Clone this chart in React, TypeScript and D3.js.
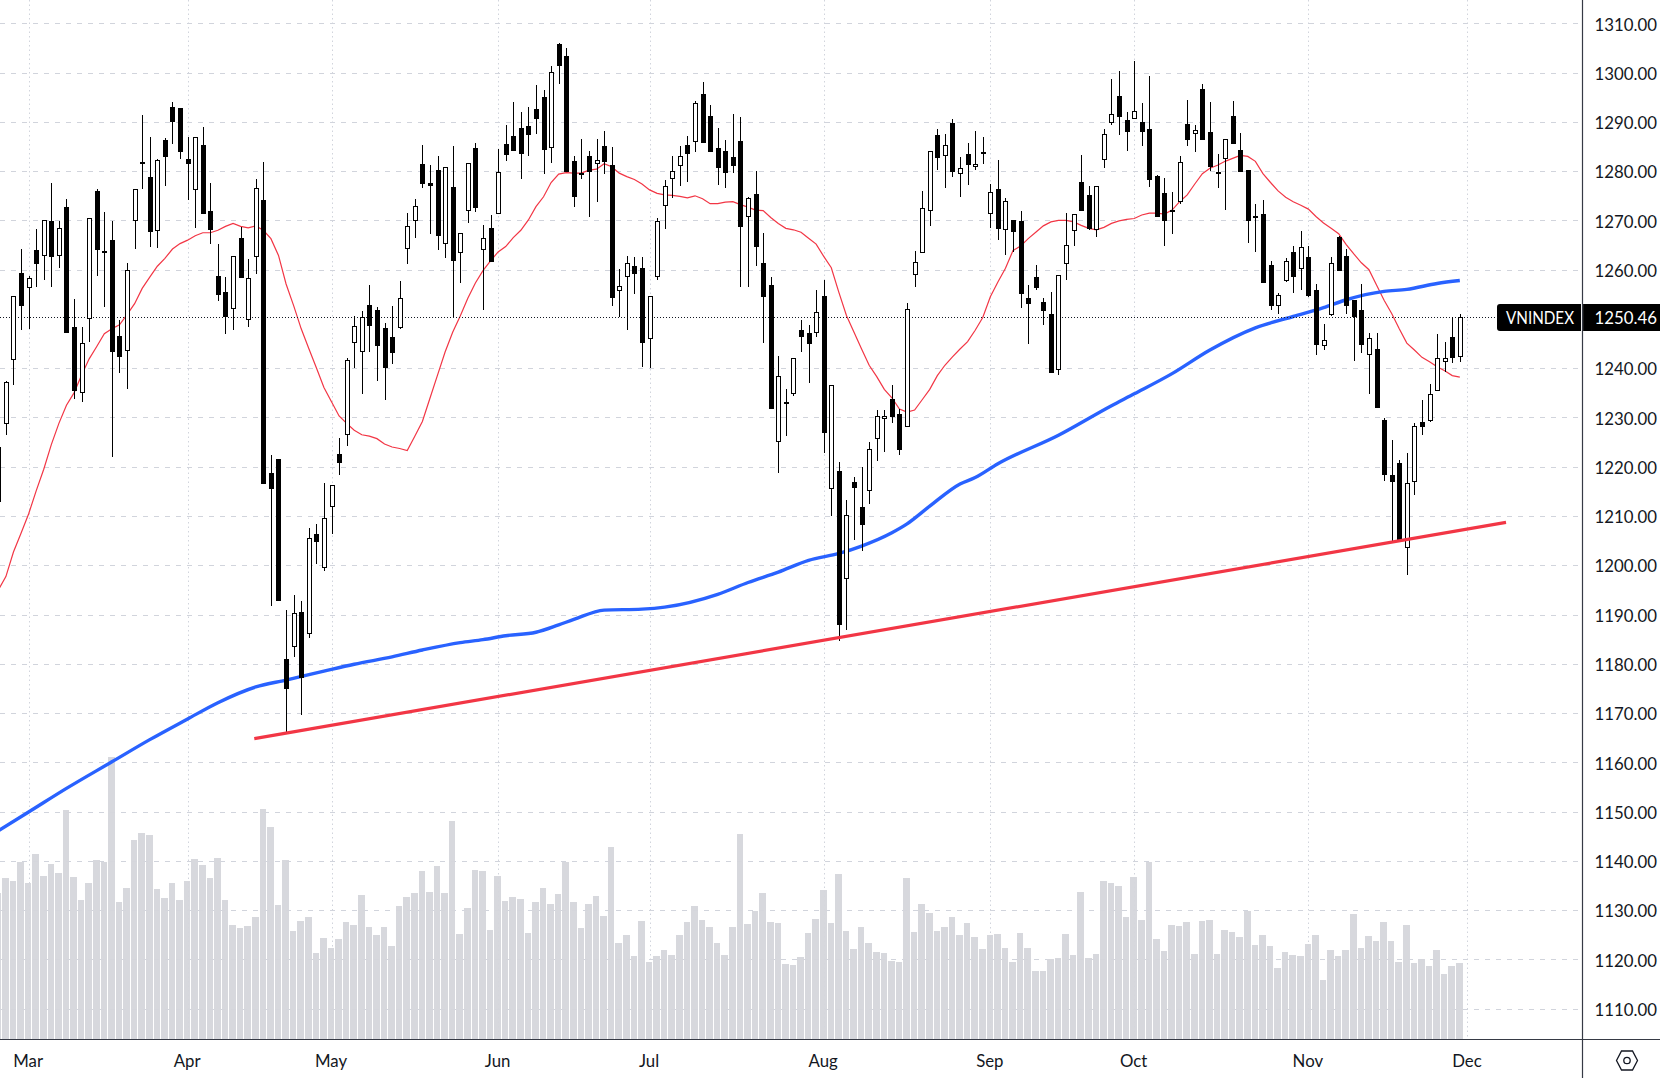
import { useEffect, useRef } from 'react';
import * as d3 from 'd3';

const WIDTH = 1660;
const HEIGHT = 1078;
const AXIS_X = 1582.5;
const AXIS_Y = 1039.5;
const FONT = 'Lato, "Noto Sans", sans-serif';

// bar number of the first entry below, bar 0 is the first session of March
const FIRST_BAR = -4;

const monthLabels = ['Mar', 'Apr', 'May', 'Jun', 'Jul', 'Aug', 'Sep', 'Oct', 'Nov', 'Dec'];
const monthBars = [0, 21, 40, 62, 82, 105, 127, 146, 169, 190];

const priceTicks = [
  1110, 1120, 1130, 1140, 1150, 1160, 1170, 1180, 1190, 1200, 1210,
  1220, 1230, 1240, 1260, 1270, 1280, 1290, 1300, 1310,
];

const opens = [
  1224.1, 1228.8, 1241.8, 1259.4, 1256.5, 1264.1, 1262.9, 1269.9, 1263.0, 1272.7,
  1248.3, 1235.2, 1250.1, 1275.9, 1263.8, 1266.1, 1246.5, 1243.8, 1270.0, 1281.8,
  1278.8, 1268.0, 1286.3, 1293.0, 1292.8, 1282.4, 1276.3, 1285.3, 1271.9, 1258.7,
  1255.4, 1252.3, 1266.4, 1249.9, 1262.8, 1274.1, 1218.7, 1221.6, 1181.0, 1183.7,
  1190.5, 1186.3, 1206.4, 1199.7, 1212.1, 1222.6, 1226.7, 1245.4, 1243.5, 1252.8,
  1251.8, 1248.2, 1246.3, 1248.4, 1264.5, 1270.1, 1281.4, 1277.7, 1280.2, 1265.5,
  1276.7, 1263.5, 1272.2, 1284.7, 1264.3, 1268.5, 1271.6, 1285.5, 1287.1, 1288.8,
  1289.1, 1292.6, 1295.0, 1284.9, 1305.9, 1303.4, 1282.1, 1279.6, 1283.1, 1281.7,
  1285.1, 1281.3, 1255.8, 1258.8, 1260.8, 1260.4, 1246.2, 1258.8, 1273.2, 1278.7,
  1281.2, 1285.4, 1286.2, 1295.7, 1291.2, 1284.7, 1284.1, 1282.9, 1286.2, 1270.8,
  1275.4, 1261.4, 1256.8, 1225.3, 1233.1, 1235.0, 1247.8, 1247.2, 1247.4, 1254.7,
  1215.6, 1219.2, 1197.5, 1216.9, 1211.8, 1215.2, 1225.9, 1229.8, 1233.8, 1230.7,
  1228.2, 1259.2, 1263.5, 1272.2, 1287.4, 1283.2, 1289.8, 1279.6, 1283.4, 1281.0,
  1283.9, 1271.5, 1276.4, 1268.2, 1270.0, 1269.9, 1254.3, 1258.5, 1253.5, 1251.0,
  1239.9, 1261.3, 1268.0, 1277.9, 1275.2, 1268.2, 1282.4, 1290.0, 1295.2, 1290.3,
  1290.8, 1289.9, 1288.6, 1279.1, 1275.6, 1272.0, 1273.9, 1289.6, 1287.7, 1296.7,
  1287.9, 1279.9, 1282.6, 1291.2, 1284.4, 1280.3, 1270.7, 1271.4, 1261.0, 1252.8,
  1258.0, 1263.6, 1260.3, 1262.5, 1255.9, 1244.8, 1251.1, 1266.7, 1262.8, 1253.9,
  1251.9, 1242.8, 1244.0, 1229.5, 1218.4, 1220.8, 1203.7, 1217.2, 1229.0, 1229.4,
  1235.5, 1241.5, 1246.4, 1242.5,
];

const highs = [
  1224.1, 1237.5, 1254.6, 1264.3, 1258.7, 1268.3, 1270.0, 1277.5, 1269.9, 1274.3,
  1254.0, 1248.3, 1270.4, 1276.3, 1271.7, 1269.9, 1249.7, 1261.4, 1276.3, 1291.4,
  1286.9, 1282.5, 1286.7, 1294.0, 1292.8, 1286.9, 1287.0, 1288.9, 1277.5, 1265.2,
  1258.5, 1262.7, 1268.7, 1262.2, 1278.4, 1281.8, 1222.4, 1221.6, 1190.9, 1193.9,
  1192.8, 1207.6, 1208.4, 1216.7, 1216.2, 1225.8, 1242.0, 1250.6, 1251.6, 1256.9,
  1252.4, 1249.1, 1252.6, 1257.8, 1271.6, 1274.3, 1285.3, 1281.2, 1283.0, 1280.9,
  1285.1, 1267.5, 1281.7, 1285.7, 1269.0, 1271.1, 1284.5, 1289.3, 1294.0, 1292.0,
  1293.0, 1297.5, 1296.5, 1301.3, 1306.0, 1305.0, 1283.0, 1286.5, 1284.0, 1286.5,
  1288.2, 1284.9, 1260.1, 1262.8, 1262.6, 1262.6, 1254.6, 1270.5, 1278.2, 1283.1,
  1285.1, 1287.2, 1294.3, 1298.1, 1293.4, 1288.7, 1286.3, 1291.6, 1290.9, 1274.8,
  1280.1, 1267.4, 1258.6, 1242.4, 1235.7, 1242.0, 1249.8, 1248.8, 1255.8, 1257.9,
  1236.5, 1221.0, 1213.3, 1218.0, 1220.0, 1225.0, 1231.6, 1231.5, 1236.6, 1231.7,
  1253.2, 1263.8, 1275.9, 1284.0, 1288.6, 1287.6, 1290.6, 1282.9, 1285.7, 1288.2,
  1287.0, 1277.4, 1282.3, 1274.6, 1270.0, 1271.9, 1256.9, 1260.9, 1254.3, 1255.5,
  1258.9, 1271.6, 1271.3, 1283.3, 1276.9, 1277.0, 1288.6, 1298.7, 1300.3, 1292.0,
  1302.4, 1293.8, 1299.3, 1279.3, 1278.6, 1275.8, 1283.1, 1294.5, 1289.3, 1297.7,
  1294.0, 1283.4, 1286.5, 1294.2, 1287.7, 1280.3, 1273.3, 1274.1, 1261.8, 1255.2,
  1262.3, 1264.8, 1267.8, 1264.8, 1257.1, 1249.0, 1262.6, 1266.9, 1264.2, 1253.9,
  1257.1, 1247.2, 1247.2, 1229.8, 1225.5, 1221.4, 1222.8, 1228.8, 1233.6, 1236.7,
  1247.0, 1245.4, 1250.4, 1251.0,
];

const lows = [
  1212.9, 1226.5, 1236.5, 1247.8, 1248.0, 1256.5, 1258.0, 1256.4, 1260.4, 1247.2,
  1233.7, 1233.2, 1245.4, 1258.7, 1252.4, 1221.9, 1239.1, 1235.7, 1264.2, 1276.4,
  1264.6, 1264.5, 1276.9, 1285.5, 1282.5, 1274.2, 1268.5, 1271.3, 1265.2, 1253.6,
  1247.0, 1247.8, 1258.4, 1248.3, 1259.1, 1216.5, 1191.8, 1192.8, 1166.0, 1181.3,
  1169.7, 1185.3, 1200.3, 1198.8, 1206.4, 1218.3, 1224.3, 1240.0, 1234.8, 1243.3,
  1237.4, 1233.5, 1240.8, 1248.0, 1261.2, 1266.4, 1276.6, 1267.2, 1264.0, 1262.4,
  1250.3, 1257.3, 1269.5, 1271.7, 1251.8, 1261.5, 1271.6, 1282.1, 1284.1, 1278.4,
  1283.0, 1287.5, 1279.4, 1281.7, 1297.7, 1279.8, 1272.7, 1278.5, 1270.7, 1273.7,
  1279.5, 1252.7, 1250.3, 1247.7, 1255.1, 1240.2, 1240.0, 1258.0, 1268.3, 1274.6,
  1277.0, 1277.9, 1283.9, 1285.7, 1283.9, 1277.2, 1276.5, 1279.6, 1256.5, 1256.4,
  1260.8, 1245.1, 1231.7, 1218.7, 1226.2, 1234.3, 1243.2, 1237.0, 1246.3, 1222.7,
  1209.9, 1184.7, 1186.8, 1205.1, 1202.8, 1212.5, 1221.2, 1223.0, 1228.9, 1222.4,
  1228.2, 1256.5, 1263.5, 1268.9, 1280.3, 1276.6, 1278.9, 1274.8, 1277.1, 1280.3,
  1281.5, 1268.5, 1266.1, 1263.0, 1263.5, 1252.2, 1245.0, 1255.8, 1248.8, 1239.0,
  1238.7, 1258.0, 1264.9, 1272.0, 1268.0, 1266.7, 1280.6, 1289.3, 1287.4, 1284.1,
  1290.8, 1285.2, 1276.8, 1270.6, 1264.8, 1267.2, 1273.4, 1285.2, 1283.8, 1286.3,
  1280.1, 1276.5, 1272.1, 1285.5, 1279.8, 1265.5, 1263.5, 1257.4, 1251.9, 1251.0,
  1257.6, 1255.2, 1255.8, 1254.5, 1242.6, 1243.6, 1250.7, 1259.7, 1251.0, 1241.4,
  1243.0, 1234.7, 1231.9, 1217.2, 1204.9, 1205.1, 1198.1, 1214.2, 1226.5, 1229.1,
  1235.3, 1239.2, 1241.0, 1241.2,
];

const closes = [
  1212.9, 1237.3, 1254.6, 1252.7, 1258.3, 1261.2, 1270.0, 1262.6, 1268.4, 1247.2,
  1235.4, 1245.1, 1270.4, 1264.1, 1263.6, 1243.3, 1242.3, 1260.0, 1276.3, 1281.6,
  1267.7, 1282.2, 1282.9, 1290.0, 1283.9, 1281.5, 1287.0, 1271.3, 1268.1, 1254.9,
  1250.3, 1262.7, 1258.4, 1258.3, 1276.5, 1216.5, 1215.5, 1192.8, 1174.8, 1190.3,
  1177.2, 1205.5, 1204.8, 1209.5, 1216.2, 1220.8, 1241.6, 1248.5, 1250.3, 1248.6,
  1244.5, 1240.1, 1243.1, 1254.3, 1268.8, 1273.0, 1277.4, 1276.9, 1266.8, 1280.9,
  1261.8, 1267.5, 1281.7, 1272.5, 1266.4, 1261.5, 1279.9, 1283.3, 1284.1, 1283.5,
  1287.3, 1290.6, 1284.3, 1300.2, 1301.4, 1279.8, 1274.7, 1279.3, 1279.8, 1282.3,
  1281.9, 1254.2, 1256.7, 1261.4, 1259.1, 1245.1, 1254.6, 1269.9, 1276.9, 1280.0,
  1283.1, 1283.5, 1293.9, 1285.7, 1283.9, 1280.7, 1279.7, 1281.1, 1268.6, 1274.5,
  1264.6, 1254.5, 1231.7, 1238.4, 1232.9, 1242.0, 1246.3, 1245.0, 1251.5, 1226.9,
  1236.5, 1187.9, 1210.3, 1215.7, 1208.2, 1223.5, 1230.3, 1230.4, 1230.1, 1223.4,
  1252.1, 1261.5, 1272.5, 1284.0, 1282.7, 1285.3, 1279.8, 1280.6, 1281.3, 1281.4,
  1283.7, 1275.7, 1268.2, 1273.9, 1267.7, 1255.1, 1253.1, 1256.3, 1251.6, 1239.0,
  1258.9, 1265.0, 1271.3, 1272.0, 1268.3, 1277.0, 1287.6, 1291.7, 1291.0, 1287.9,
  1292.2, 1287.9, 1278.2, 1270.6, 1269.8, 1272.2, 1281.9, 1286.3, 1288.3, 1286.3,
  1280.9, 1279.4, 1286.5, 1285.5, 1279.8, 1269.8, 1270.9, 1257.4, 1252.7, 1254.8,
  1261.8, 1258.6, 1264.6, 1254.7, 1244.7, 1245.7, 1261.4, 1259.7, 1252.6, 1250.3,
  1244.8, 1246.2, 1231.9, 1218.4, 1217.0, 1205.1, 1216.6, 1228.3, 1228.0, 1234.8,
  1242.0, 1242.1, 1242.0, 1250.46,
];

// volume, millions of shares
const volumes = [
  439, 484, 475, 532, 469, 558, 490, 526, 499, 688,
  487, 418, 469, 538, 532, 847, 412, 454, 598, 619,
  613, 451, 424, 469, 418, 475, 541, 523, 484, 544,
  418, 343, 334, 340, 367, 691, 637, 403, 538, 325,
  355, 367, 259, 304, 274, 301, 352, 343, 433, 337,
  313, 337, 280, 400, 427, 439, 505, 442, 520, 439,
  655, 316, 394, 508, 505, 328, 490, 415, 427, 421,
  319, 412, 454, 406, 436, 532, 412, 334, 406, 430,
  370, 577, 289, 313, 250, 355, 232, 250, 268, 253,
  313, 352, 400, 358, 337, 289, 253, 337, 616, 346,
  385, 439, 352, 349, 226, 223, 247, 319, 361, 448,
  349, 496, 325, 271, 337, 289, 262, 259, 235, 232,
  484, 322, 406, 379, 325, 337, 367, 313, 349, 307,
  271, 313, 316, 274, 232, 319, 274, 205, 205, 241,
  244, 316, 253, 442, 244, 256, 475, 469, 460, 367,
  487, 358, 532, 301, 265, 343, 340, 352, 256, 355,
  358, 256, 328, 322, 307, 386, 283, 313, 280, 214,
  262, 253, 250, 286, 313, 178, 268, 250, 268, 376,
  274, 310, 295, 352, 295, 232, 343, 229, 241, 220,
  268, 196, 220, 229,
];

const ma20 = [
  1195.0, 1197.7, 1202.7, 1206.5, 1210.4, 1215.1, 1219.5, 1224.5, 1228.8, 1232.5,
  1235.0, 1238.6, 1241.9, 1244.4, 1247.0, 1248.0, 1248.8, 1250.9, 1253.1, 1256.2,
  1258.5, 1260.7, 1262.3, 1264.2, 1265.3, 1266.0, 1266.9, 1267.5, 1267.5, 1268.0,
  1268.8, 1269.4, 1268.8, 1268.5, 1268.9, 1268.0, 1266.3, 1262.9, 1257.1, 1252.7,
  1248.0, 1244.0, 1240.1, 1236.1, 1233.2, 1230.3, 1228.8, 1227.4, 1226.5, 1226.2,
  1225.7, 1224.6, 1224.0, 1223.7, 1223.3, 1226.2, 1229.2, 1233.9, 1238.6, 1243.3,
  1247.3, 1250.6, 1254.2, 1257.3, 1259.8, 1261.8, 1263.6, 1264.7, 1266.5, 1268.0,
  1270.1, 1272.8, 1274.8, 1277.7, 1279.4, 1279.7, 1279.6, 1279.6, 1280.2, 1280.4,
  1281.5, 1280.9, 1279.6, 1278.9, 1278.3, 1277.4, 1276.2, 1275.5, 1275.2, 1275.1,
  1274.9, 1274.6, 1275.0, 1274.4, 1273.4, 1273.4, 1273.7, 1273.8, 1273.2, 1272.7,
  1272.1, 1272.0, 1270.6, 1269.4, 1268.4, 1268.1, 1267.6, 1266.4, 1265.2, 1262.7,
  1260.4, 1255.4, 1250.7, 1247.3, 1243.9, 1240.6, 1238.3, 1235.7, 1234.0, 1231.7,
  1231.1, 1231.5, 1233.6, 1235.7, 1238.5, 1240.6, 1242.3, 1243.9, 1245.4, 1247.7,
  1250.3, 1254.5, 1257.5, 1260.3, 1263.9, 1264.8, 1266.3, 1267.6, 1268.9, 1269.7,
  1270.0, 1270.0, 1269.7, 1269.0, 1268.4, 1268.1, 1268.6, 1269.4, 1269.9, 1270.2,
  1270.4, 1271.1, 1271.5, 1271.5, 1271.3, 1272.1, 1273.8, 1275.2, 1277.4, 1279.5,
  1280.6, 1281.2, 1282.0, 1282.6, 1283.2, 1283.0, 1282.0, 1279.5, 1277.7, 1276.0,
  1274.7, 1273.8, 1273.1, 1272.3, 1270.8, 1269.5, 1268.4, 1267.3, 1265.1, 1263.2,
  1261.4, 1260.0, 1256.9, 1253.8, 1251.1, 1248.0, 1245.1, 1243.7, 1242.2, 1241.3,
  1240.3, 1239.5, 1238.5, 1238.2,
];

// long average, read at the bars where it visibly bends
const ma100Bars = [
  -4, 0, 5, 11, 16, 21, 25, 30, 34, 39, 43, 48, 52, 57, 60, 63, 67, 70, 72, 76,
  81, 84, 91, 95, 99, 103, 107, 110, 114, 116, 119, 123, 125, 128, 136, 143,
  146, 151, 156, 162, 167, 171, 174, 179, 182, 186, 189,
];
const ma100Values = [
  1146.1, 1149.9, 1154.7, 1160.1, 1164.6, 1168.8, 1172.1, 1175.3, 1176.7, 1178.5,
  1179.9, 1181.4, 1182.8, 1184.3, 1184.9, 1185.7, 1186.4, 1187.9, 1189.0, 1190.9,
  1191.1, 1191.5, 1194.1, 1196.5, 1198.6, 1201.0, 1202.4, 1203.9, 1206.6, 1208.4,
  1212.0, 1216.5, 1217.8, 1220.6, 1226.4, 1232.4, 1234.8, 1238.9, 1243.7, 1248.2,
  1250.5, 1252.3, 1253.9, 1255.6, 1256.0, 1257.2, 1257.8,
];

// hand drawn support line
const trendBars = [29.8, 195.1];
const trendPrices = [1164.8, 1208.7];

const LAST_PRICE = 1250.46;
const SYMBOL = 'VNINDEX';

export default function App() {
  const svgRef = useRef<SVGSVGElement>(null);

  useEffect(() => {
    if (!svgRef.current) return;
    const svg = d3.select(svgRef.current);
    svg.selectAll('*').remove();

    const x = d3.scaleLinear().domain([0, 190]).range([28.6, 1467.4]);
    const y = d3.scaleLinear().domain([1110, 1310]).range([1008.6, 23.4]);
    const volY = d3.scaleLinear().domain([0, 1000]).range([AXIS_Y, AXIS_Y - 333.3]);
    const bars = opens.map((_, i) => i + FIRST_BAR);
    const step = x(1) - x(0);

    // grid
    const grid = svg.append('g');
    grid.selectAll('line.h')
      .data(priceTicks)
      .join('line')
      .attr('x1', 0)
      .attr('x2', AXIS_X)
      .attr('y1', (d) => Math.round(y(d)) + 0.5)
      .attr('y2', (d) => Math.round(y(d)) + 0.5)
      .attr('stroke', '#d1d4dc')
      .attr('stroke-width', 1)
      .attr('stroke-dasharray', '5 6');
    grid.selectAll('line.v')
      .data(monthBars)
      .join('line')
      .attr('x1', (d) => Math.round(x(d)) + 0.5)
      .attr('x2', (d) => Math.round(x(d)) + 0.5)
      .attr('y1', 0)
      .attr('y2', AXIS_Y)
      .attr('stroke', '#d1d4dc')
      .attr('stroke-width', 1)
      .attr('stroke-dasharray', '1.5 3');

    // volume, snapped to whole pixels with a 1px gap
    svg.append('g')
      .selectAll('rect')
      .data(volumes)
      .join('rect')
      .attr('x', (_, i) => Math.round(x(bars[i]) - step / 2))
      .attr('width', (_, i) => Math.round(x(bars[i]) + step / 2) - Math.round(x(bars[i]) - step / 2) - 1)
      .attr('y', (d) => volY(d))
      .attr('height', (d) => AXIS_Y - volY(d))
      .attr('fill', '#d5d6db')
      .attr('fill-opacity', 0.95)
      .attr('shape-rendering', 'crispEdges');

    // moving averages sit under the candles
    const ma20Line = d3.line<number>()
      .x((_, i) => x(bars[i]))
      .y((d) => y(d));
    svg.append('path')
      .attr('d', ma20Line(ma20))
      .attr('fill', 'none')
      .attr('stroke', '#f23645')
      .attr('stroke-width', 1.2);

    const ma100Line = d3.line<number>()
      .x((_, i) => x(ma100Bars[i]))
      .y((d) => y(d))
      .curve(d3.curveMonotoneX);
    svg.append('path')
      .attr('d', ma100Line(ma100Values))
      .attr('fill', 'none')
      .attr('stroke', '#2962ff')
      .attr('stroke-width', 3.4);

    // last price line
    svg.append('line')
      .attr('x1', 0)
      .attr('x2', 1497)
      .attr('y1', Math.round(y(LAST_PRICE)) + 0.5)
      .attr('y2', Math.round(y(LAST_PRICE)) + 0.5)
      .attr('stroke', '#131722')
      .attr('stroke-width', 1)
      .attr('stroke-dasharray', '1 2');

    // candles
    const candles = svg.append('g')
      .selectAll('g')
      .data(bars)
      .join('g')
      .attr('shape-rendering', 'crispEdges');
    candles.append('rect')
      .attr('x', (d) => Math.round(x(d)))
      .attr('width', 1)
      .attr('y', (_, i) => y(highs[i]))
      .attr('height', (_, i) => Math.max(1, y(lows[i]) - y(highs[i])))
      .attr('fill', '#000');
    candles.each(function (d, i) {
      const up = closes[i] >= opens[i];
      const top = Math.round(y(Math.max(opens[i], closes[i])));
      const bottom = Math.round(y(Math.min(opens[i], closes[i])));
      const cx = Math.round(x(d));
      const body = d3.select(this).append('rect');
      if (up) {
        body
          .attr('x', cx - 1.5)
          .attr('width', 4)
          .attr('y', top + 0.5)
          .attr('height', Math.max(1, bottom - top))
          .attr('fill', '#fff')
          .attr('stroke', '#000');
      } else {
        body
          .attr('x', cx - 2)
          .attr('width', 5)
          .attr('y', top)
          .attr('height', Math.max(2, bottom - top))
          .attr('fill', '#000');
      }
    });

    // trend line goes on top
    svg.append('line')
      .attr('x1', x(trendBars[0]))
      .attr('x2', x(trendBars[1]))
      .attr('y1', y(trendPrices[0]))
      .attr('y2', y(trendPrices[1]))
      .attr('stroke', '#f23645')
      .attr('stroke-width', 3.2);

    // right and bottom panels
    svg.append('rect')
      .attr('x', AXIS_X)
      .attr('y', 0)
      .attr('width', WIDTH - AXIS_X)
      .attr('height', HEIGHT)
      .attr('fill', '#fff');
    svg.append('rect')
      .attr('x', 0)
      .attr('y', AXIS_Y)
      .attr('width', WIDTH)
      .attr('height', HEIGHT - AXIS_Y)
      .attr('fill', '#fff');

    const priceAxis = d3.axisRight(y)
      .tickValues(priceTicks)
      .tickFormat((d) => (d as number).toFixed(2))
      .tickSize(0)
      .tickPadding(12);
    const priceG = svg.append('g')
      .attr('transform', `translate(${AXIS_X},0)`)
      .call(priceAxis);
    priceG.select('.domain').remove();
    priceG.selectAll('text')
      .attr('font-family', FONT)
      .attr('font-size', 16.8)
      .attr('dy', '0.4em')
      .attr('fill', '#131722');

    const monthScale = d3.scaleOrdinal<string, number>().domain(monthLabels).range(monthBars.map((d) => x(d) - 1));
    const timeAxis = d3.axisBottom(monthScale as any)
      .tickSize(0)
      .tickPadding(16);
    const timeG = svg.append('g')
      .attr('transform', `translate(0,${AXIS_Y})`)
      .call(timeAxis as any);
    timeG.select('.domain').remove();
    timeG.selectAll('text')
      .attr('font-family', FONT)
      .attr('font-size', 16.8)
      .attr('fill', '#131722');

    // axis lines
    svg.append('line')
      .attr('x1', 0).attr('x2', WIDTH)
      .attr('y1', AXIS_Y).attr('y2', AXIS_Y)
      .attr('stroke', '#363a45')
      .attr('stroke-width', 1.2);
    svg.append('line')
      .attr('x1', AXIS_X).attr('x2', AXIS_X)
      .attr('y1', 0).attr('y2', HEIGHT)
      .attr('stroke', '#363a45')
      .attr('stroke-width', 1.2);

    // last price labels
    const labelTop = 304;
    const labelH = 27;
    svg.append('path')
      .attr('d', `M1581,${labelTop}H1500a3,3 0 0 0 -3,3V${labelTop + labelH - 3}a3,3 0 0 0 3,3H1581Z`)
      .attr('fill', '#000');
    svg.append('rect')
      .attr('x', AXIS_X + 0.6)
      .attr('y', labelTop)
      .attr('width', WIDTH - AXIS_X)
      .attr('height', labelH)
      .attr('fill', '#000');
    svg.append('text')
      .attr('x', 1506)
      .attr('y', labelTop + labelH / 2)
      .attr('dy', '0.4em')
      .attr('font-family', FONT)
      .attr('font-size', 16.8)
      .attr('textLength', 68)
      .attr('lengthAdjust', 'spacingAndGlyphs')
      .attr('fill', '#fff')
      .text(SYMBOL);
    svg.append('text')
      .attr('x', AXIS_X + 12)
      .attr('y', labelTop + labelH / 2)
      .attr('dy', '0.4em')
      .attr('font-family', FONT)
      .attr('font-size', 16.8)
      .attr('fill', '#fff')
      .text(LAST_PRICE.toFixed(2));

    // settings icon
    const icon = svg.append('g')
      .attr('transform', 'translate(1627,1060.5)')
      .attr('fill', 'none')
      .attr('stroke', '#131722')
      .attr('stroke-width', 1.3);
    icon.append('path').attr('d', 'M-10.5,0L-5.5,-9.5H5.5L10.5,0L5.5,9.5H-5.5Z');
    icon.append('circle').attr('r', 3.2);
  }, []);

  return (
    <svg
      ref={svgRef}
      width={WIDTH}
      height={HEIGHT}
      style={{ position: 'absolute', left: 0, top: 0, display: 'block', background: '#fff' }}
    />
  );
}
